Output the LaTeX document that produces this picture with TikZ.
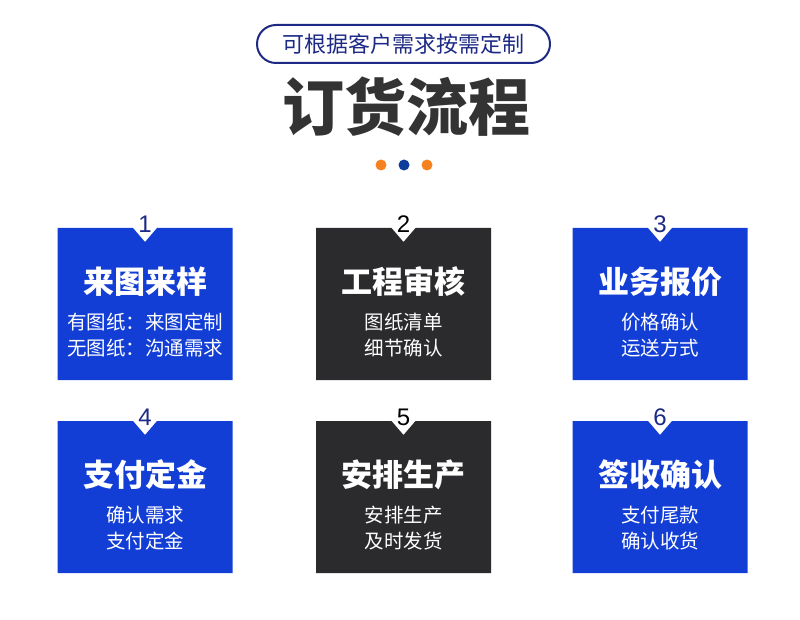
\documentclass[tikz,border=0pt]{standalone}
\usepackage{fontspec}
\newfontfamily\cjk{Noto Sans CJK SC}
\newfontfamily\numfont{Liberation Sans}
\definecolor{cardblue}{HTML}{123ED6}
\definecolor{carddark}{HTML}{2B2B2D}
\definecolor{navy}{HTML}{1C2A85}
\definecolor{titlegray}{HTML}{333333}
\definecolor{dotorange}{HTML}{F5821F}
\definecolor{dotblue}{HTML}{0E3D9C}
\tikzset{
  cardtitle/.style={text=white,font=\cjk\bfseries\fontsize{31}{31}\selectfont,inner sep=0pt},
  cardline/.style={text=white,font=\cjk\fontsize{19.5}{19.5}\selectfont,inner sep=0pt},
  cardnum/.style={font=\numfont\fontsize{24}{24}\selectfont,inner sep=0pt},
}
% #1 name, #2 center x, #3 top y, #4 fill, #5 number colour, #6 number, #7 title, #8 line1, #9 line2
\newcommand\orderbox[9]{%
  \fill[#4] (#2-87.5,#3) -- (#2-12,#3) -- (#2,#3+14) -- (#2+12,#3) -- (#2+87.5,#3)
    -- (#2+87.5,#3+152) -- (#2-87.5,#3+152) -- cycle;
  \node[cardnum,text=#5] (#1num) at (#2,#3-4) {#6};
  \node[cardtitle] (#1title) at (#2,#3+54) {#7};
  \node[cardline] (#1a) at (#2,#3+94) {#8};
  \node[cardline] (#1b) at (#2,#3+120) {#9};
}
\begin{document}
\begin{tikzpicture}[x=1pt,y=-1pt]
\useasboundingbox (0,0) rectangle (800,620);
\fill[white] (0,0) rectangle (800,620);
% pill
\draw[navy,line width=2pt,rounded corners=19pt] (257,25) rectangle (550,63);
\node[text=navy,font=\cjk\fontsize{22}{22}\selectfont,inner sep=0pt] (sub) at (403.5,44) {可根据客户需求按需定制};
% title
\node[text=titlegray,font=\cjk\bfseries\fontsize{62}{62}\selectfont,inner sep=0pt] (title) at (406,107) {订货流程};
% dots
\fill[dotorange] (381,165) circle (5.5);
\fill[dotblue] (404,165) circle (5.5);
\fill[dotorange] (427,165) circle (5.5);
% boxes
\orderbox{s1}{145}{228}{cardblue}{navy}{1}{来图来样}{有图纸：来图定制}{无图纸：沟通需求}
\orderbox{s2}{403.5}{228}{carddark}{black}{2}{工程审核}{图纸清单}{细节确认}
\orderbox{s3}{660}{228}{cardblue}{navy}{3}{业务报价}{价格确认}{运送方式}
\orderbox{s4}{145}{421}{cardblue}{navy}{4}{支付定金}{确认需求}{支付定金}
\orderbox{s5}{403.5}{421}{carddark}{black}{5}{安排生产}{安排生产}{及时发货}
\orderbox{s6}{660}{421}{cardblue}{navy}{6}{签收确认}{支付尾款}{确认收货}
\end{tikzpicture}
\end{document}
